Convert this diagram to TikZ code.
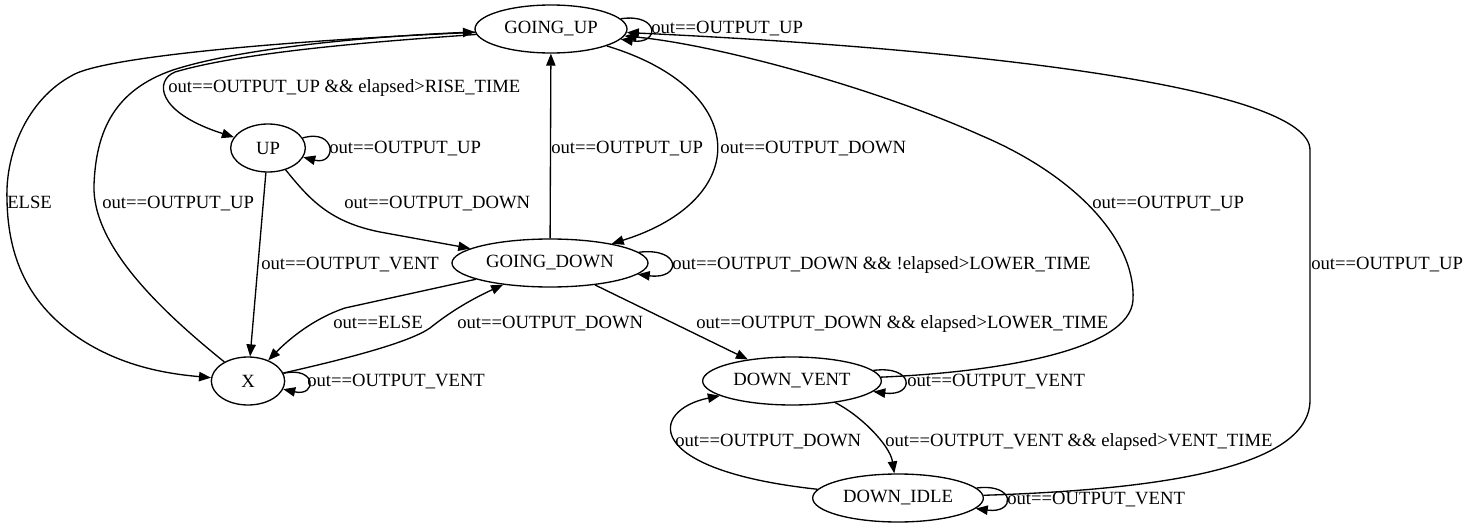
\documentclass[tikz,border=0pt]{standalone}
\usepackage{fontspec}
\setmainfont{Liberation Serif}
\usepackage{tikz}
\usetikzlibrary{shapes.geometric, arrows.meta}
\tikzstyle{state} = [ellipse, draw=black, line width=1pt, minimum height=36pt, inner sep=0pt, font=\fontsize{14}{17}\selectfont]
\tikzstyle{lbl} = [anchor=base west, inner sep=0pt, font=\fontsize{14}{17}\selectfont]
\tikzstyle{arrow} = [line width=1pt,-{Triangle[length=9pt,width=7pt]}]

\begin{document}
\begin{tikzpicture}[x=0.75pt, y=-0.75pt]
		\useasboundingbox (0,0) rectangle (1472,528);
		\node (goingup) [state, minimum width=114pt] at (551,29) {GOING\_UP};
		\node (up) [state, minimum width=56pt] at (268,148) {UP};
		\node (goingdown) [state, minimum width=147pt] at (550,263) {GOING\_DOWN};
		\node (xstate) [state, minimum width=55pt] at (248,381) {X};
		\node (downvent) [state, minimum width=134pt] at (792,381) {DOWN\_VENT};
		\node (downidle) [state, minimum width=128pt] at (898,498) {DOWN\_IDLE};
		
		\node (l0) [lbl] at (651,34) {out==OUTPUT\_UP};
		\node (l1) [lbl] at (168,93) {out==OUTPUT\_UP \&\& elapsed>RISE\_TIME};
		\node (l2) [lbl] at (329,153) {out==OUTPUT\_UP};
		\node (l3) [lbl] at (7,209) {ELSE};
		\node (l4) [lbl] at (102,209) {out==OUTPUT\_UP};
		\node (l5) [lbl] at (344,209) {out==OUTPUT\_DOWN};
		\node (l6) [lbl] at (261,269) {out==OUTPUT\_VENT};
		\node (l7) [lbl] at (551,153) {out==OUTPUT\_UP};
		\node (l8) [lbl] at (720,153) {out==OUTPUT\_DOWN};
		\node (l9) [lbl] at (672,269) {out==OUTPUT\_DOWN \&\& !elapsed>LOWER\_TIME};
		\node (l10) [lbl] at (333,328) {out==ELSE};
		\node (l11) [lbl] at (457,328) {out==OUTPUT\_DOWN};
		\node (l12) [lbl] at (696,328) {out==OUTPUT\_DOWN \&\& elapsed>LOWER\_TIME};
		\node (l13) [lbl] at (1092,209) {out==OUTPUT\_UP};
		\node (l14) [lbl] at (1311,269) {out==OUTPUT\_UP};
		\node (l15) [lbl] at (307,386) {out==OUTPUT\_VENT};
		\node (l16) [lbl] at (907,386) {out==OUTPUT\_VENT};
		\node (l17) [lbl] at (885,446) {out==OUTPUT\_VENT \&\& elapsed>VENT\_TIME};
		\node (l18) [lbl] at (675,446) {out==OUTPUT\_DOWN};
		\node (l19) [lbl] at (1007,504) {out==OUTPUT\_VENT};
		
		\draw [arrow] (goingup) .. controls (660,13) and (660,45) .. (goingup);
		\draw [arrow] (goingup) .. controls (400,40) and (250,50) .. (175,72) .. controls (155,80) and (155,112) .. (up);
		\draw [arrow] (goingup) .. controls (300,40) and (120,55) .. (77,73) .. controls (30,95) and (5,150) .. (7,200) .. controls (8,260) and (30,310) .. (90,345) .. controls (130,368) and (170,374) .. (xstate);
		\draw [arrow] (xstate) .. controls (160,310) and (92,245) .. (94,185) .. controls (96,130) and (115,90) .. (173,70) .. controls (250,45) and (400,35) .. (goingup);
		\draw [arrow] (up) .. controls (337,128) and (337,166) .. (up);
		\draw [arrow] (up) -- (xstate);
		\draw [arrow] (up) .. controls (310,200) and (330,222) .. (380,232) -- (goingdown);
		\draw [arrow] (goingdown) -- (goingup);
		\draw [arrow] (goingup) .. controls (752,90) and (752,200) .. (goingdown);
		\draw [arrow] (goingdown) .. controls (682,247) and (682,280) .. (goingdown);
		\draw [arrow] (goingdown) -- (345,308) .. controls (315,318) and (290,338) .. (xstate);
		\draw [arrow] (xstate) .. controls (350,358) and (410,342) .. (430,328) .. controls (450,312) and (470,300) .. (goingdown);
		\draw [arrow] (xstate) .. controls (317,366) and (317,397) .. (xstate);
		\draw [arrow] (goingdown) -- (downvent);
		\draw [arrow] (downvent) .. controls (915,365) and (915,397) .. (downvent);
		\draw [arrow] (downvent) .. controls (860,415) and (890,445) .. (downidle);
		\draw [arrow] (downidle) .. controls (640,470) and (650,410) .. (downvent);
		\draw [arrow] (downidle) .. controls (1016,483) and (1016,514) .. (downidle);
		\draw [arrow] (downvent) .. controls (1000,372) and (1130,350) .. (1133,300) .. controls (1136,240) and (1075,175) .. (980,135) .. controls (880,90) and (720,45) .. (goingup);
		\draw [arrow] (downidle) .. controls (1150,490) and (1310,470) .. (1310,400) -- (1310,150) .. controls (1310,90) and (1000,50) .. (goingup);
			
\end{tikzpicture}
\end{document}
